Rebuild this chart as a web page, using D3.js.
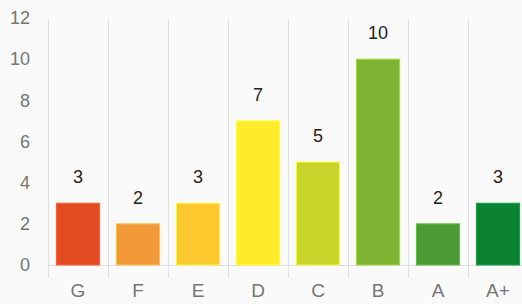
<!DOCTYPE html>
<html>
<head>
<meta charset="utf-8">
<script src="https://cdn.jsdelivr.net/npm/d3@7"></script>
<style>
  html, body { margin: 0; padding: 0; background: #fafafa; }
  svg { display: block; font-family: Arial, "Liberation Sans", sans-serif; }
</style>
</head>
<body>
<div id="chart"></div>
<script>
const width = 522;
const height = 304;

const grades = ["G", "F", "E", "D", "C", "B", "A", "A+"];
const counts = [3, 2, 3, 7, 5, 10, 2, 3];
const barColors = ["#e24a22", "#f29a3a", "#fec92f", "#ffeb2a", "#c9d42b", "#7fb433", "#4a9a35", "#0a8232"];
const yTicks = [0, 2, 4, 6, 8, 10, 12];

const margin = { left: 48, top: 18, bottom: 39 };

const svg = d3.select("#chart")
    .append("svg")
    .attr("width", width)
    .attr("height", height);

svg.append("rect")
    .attr("width", width)
    .attr("height", height)
    .attr("fill", "#fafafa");

const x = d3.scaleBand()
    .domain(grades)
    .range([margin.left, margin.left + 60 * grades.length])
    .paddingInner(0.28)
    .paddingOuter(0.14);

const y = d3.scaleLinear()
    .domain([0, 12])
    .range([height - margin.bottom, margin.top]);

// vertical grid lines between categories
const step = x.step();
const gridX = d3.range(grades.length + 1).map(i => margin.left + i * step);
svg.selectAll(".vgrid")
    .data(gridX)
    .enter()
    .append("line")
    .attr("class", "vgrid")
    .attr("x1", d => d + 0.5)
    .attr("x2", d => d + 0.5)
    .attr("y1", y(12) + 1)
    .attr("y2", y(0) + 13)
    .attr("stroke", "#e0e0e0")
    .attr("stroke-width", 1);

// baseline
svg.append("line")
    .attr("x1", margin.left)
    .attr("x2", width)
    .attr("y1", y(0) + 0.5)
    .attr("y2", y(0) + 0.5)
    .attr("stroke", "#dcdcdc");

// y axis labels
const yAxis = d3.axisLeft(y).tickValues(yTicks).tickSize(0).tickPadding(0);
const gy = svg.append("g")
    .attr("transform", "translate(30,0)")
    .call(yAxis);
gy.select(".domain").remove();
gy.selectAll("text")
    .attr("font-size", 18)
    .attr("font-family", "Arial, 'Liberation Sans', sans-serif")
    .attr("fill", "#757575");

// x axis labels
const xAxis = d3.axisBottom(x).tickSize(0).tickPadding(0);
const gx = svg.append("g")
    .attr("transform", `translate(0,${y(0) + 18})`)
    .call(xAxis);
gx.select(".domain").remove();
gx.selectAll("text")
    .attr("font-size", 19)
    .attr("font-family", "Arial, 'Liberation Sans', sans-serif")
    .attr("fill", "#757575");

// bars
svg.selectAll(".bar")
    .data(grades)
    .enter()
    .append("rect")
    .attr("class", "bar")
    .attr("x", d => x(d))
    .attr("width", x.bandwidth())
    .attr("y", (d, i) => y(counts[i]))
    .attr("height", (d, i) => y(0) - y(counts[i]))
    .attr("fill", (d, i) => barColors[i])
    .attr("stroke", (d, i) => d3.color(barColors[i]).brighter(0.6))
    .attr("stroke-width", 1);

// value labels
svg.selectAll(".value")
    .data(grades)
    .enter()
    .append("text")
    .attr("class", "value")
    .attr("x", d => x(d) + x.bandwidth() / 2)
    .attr("y", (d, i) => y(counts[i]) - 20)
    .attr("text-anchor", "middle")
    .attr("font-size", 18)
    .attr("fill", "#222")
    .text((d, i) => counts[i]);
</script>
</body>
</html>
